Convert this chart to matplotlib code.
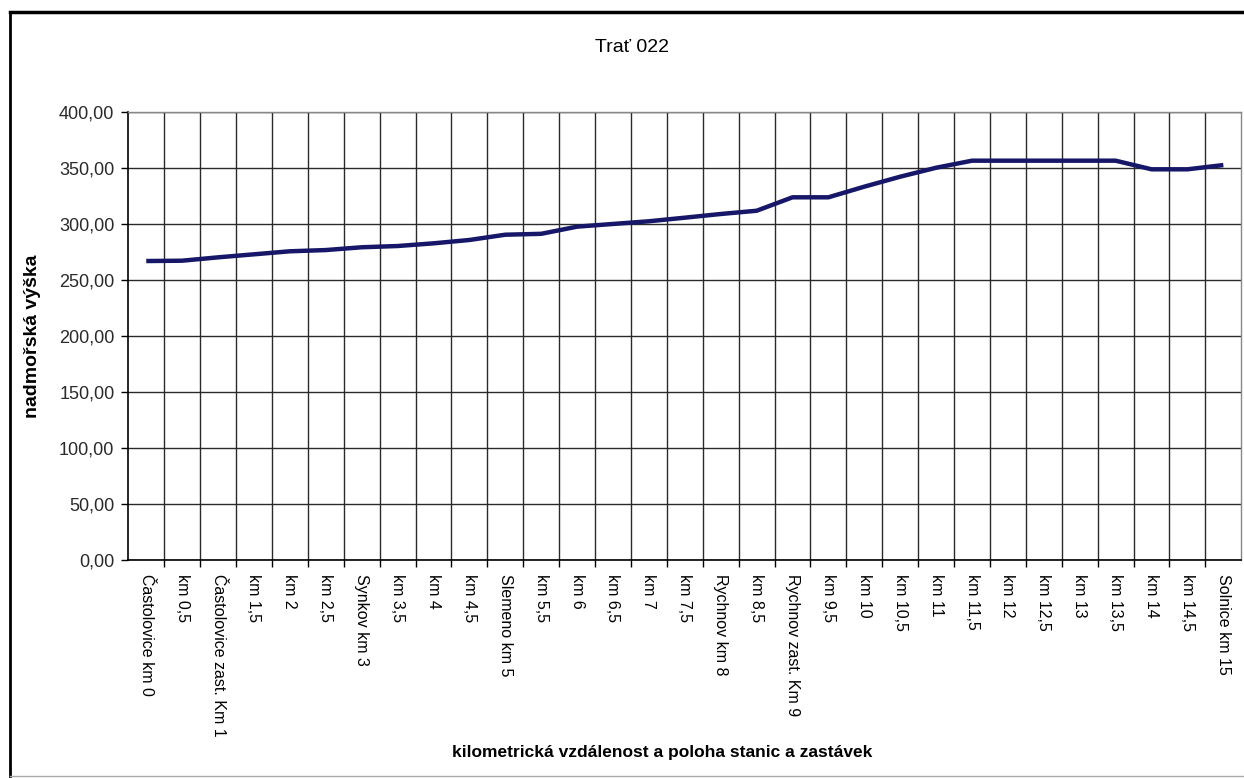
import matplotlib
matplotlib.use("Agg")
import matplotlib.pyplot as plt
from matplotlib.lines import Line2D
from matplotlib.ticker import FixedLocator, FuncFormatter

plt.rcParams['font.family'] = ['Liberation Sans', 'DejaVu Sans']

# stanice / km poloha na trati 022
labels = ["Častolovice km 0", "km 0,5", "Častolovice zast. Km 1", "km 1,5", "km 2",
          "km 2,5", "Synkov km 3", "km 3,5", "km 4", "km 4,5", "Slemeno km 5",
          "km 5,5", "km 6", "km 6,5", "km 7", "km 7,5", "Rychnov km 8", "km 8,5",
          "Rychnov zast. Km 9", "km 9,5", "km 10", "km 10,5", "km 11", "km 11,5",
          "km 12", "km 12,5", "km 13", "km 13,5", "km 14", "km 14,5", "Solnice km 15"]
# nadmořská výška v metrech
vyska = [267.2, 267.5, 270.5, 273.2, 275.9, 277.0, 279.5, 280.6, 283.0, 286.0,
         290.7, 291.5, 297.9, 300.3, 302.7, 305.9, 309.2, 312.1, 324.1, 324.1,
         333.6, 342.5, 350.5, 356.8, 356.8, 356.8, 356.8, 356.8, 349.1, 349.1,
         352.9]
y_ticks = [0, 50, 100, 150, 200, 250, 300, 350, 400]

W, H = 1244, 778
fig = plt.figure(figsize=(W / 100, H / 100), dpi=100)
ax = fig.add_axes([128.3 / W, (H - 560.3) / H, 1113.0 / W, 448.0 / H])

n = len(labels)
x = list(range(n))
ax.plot(x, vyska, color='#17176a', lw=3.2, solid_capstyle='butt', zorder=3)

ax.set_xlim(-0.5, n - 0.5)
ax.set_ylim(0, 400)

# hranice kategorii = mrizka, popisky uprostred
ax.xaxis.set_major_locator(FixedLocator([i + 0.5 for i in range(n - 1)]))
ax.xaxis.set_major_formatter(FuncFormatter(lambda v, p: ""))
ax.xaxis.set_minor_locator(FixedLocator(x))
ax.set_xticklabels(labels, minor=True, rotation=270, fontsize=11.5,
                   va='top', ha='center')
ax.tick_params(axis='x', which='minor', length=0, pad=10)
ax.tick_params(axis='x', which='major', length=5, width=1, direction='out', color='black')

ax.yaxis.set_major_locator(FixedLocator(y_ticks))
ax.yaxis.set_major_formatter(FuncFormatter(lambda v, p: f"{v:.2f}".replace(".", ",")))
ax.tick_params(axis='y', length=5, width=1, pad=5, labelsize=13, colors='black')
for t in ax.get_yticklabels():
    t.set_color('#2a2a2a')

ax.grid(True, which='major', color='#2a2a2a', lw=1.0)
ax.set_axisbelow(True)

for s in ['left', 'bottom']:
    ax.spines[s].set_color('black')
    ax.spines[s].set_linewidth(1.2)
for s in ['top', 'right']:
    ax.spines[s].set_color('#888888')
    ax.spines[s].set_linewidth(1.0)

fig.text(632 / W, 1 - 48 / H, "Trať 022", ha='center', va='center', fontsize=14)
fig.text(662 / W, 1 - 752 / H, "kilometrická vzdálenost a poloha stanic a zastávek",
         ha='center', va='center', fontsize=12.5, fontweight='bold')
fig.text(33 / W, 1 - 336 / H, "nadmořská výška", ha='center', va='center',
         rotation=90, fontsize=14, fontweight='bold')

# ramecek grafu
fig.add_artist(Line2D([10 / W, 1.0], [1 - 12 / H, 1 - 12 / H], color='black', lw=2.5))
fig.add_artist(Line2D([10 / W, 10 / W], [1 - 12 / H, 1 - 776 / H], color='black', lw=2.0))
fig.add_artist(Line2D([10 / W, 1.0], [1 - 776 / H, 1 - 776 / H], color='#aaaaaa', lw=1.0))

fig.savefig("out.png", dpi=100)
